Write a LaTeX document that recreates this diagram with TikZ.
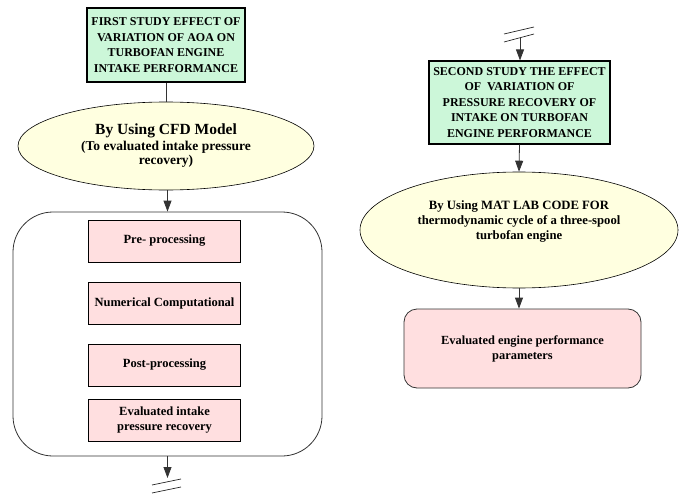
\documentclass[tikz,border=0pt]{standalone}
\usepackage{fontspec}
\setmainfont{Liberation Serif}
\usetikzlibrary{shapes.geometric,arrows.meta}
\definecolor{gfill}{HTML}{CCF7D9}
\definecolor{yfill}{HTML}{FFFFE0}
\definecolor{pfill}{HTML}{FFDFE0}
\begin{document}
\begin{tikzpicture}[x=1pt,y=-1pt,
  greenbox/.style={draw=black,line width=1.1pt,fill=gfill,rectangle,inner sep=0pt,align=center,font=\bfseries\fontsize{12}{15.5}\selectfont},
  ellbox/.style={draw=black,line width=0.6pt,fill=yfill,ellipse,inner sep=0pt,align=center},
  pinkbox/.style={draw=black,line width=1pt,fill=pfill,rectangle,inner sep=0pt,minimum width=152pt,minimum height=42pt,align=center,font=\bfseries\fontsize{12.5}{15}\selectfont},
  conn/.style={draw=black!80,line width=0.8pt},
  arr/.style={conn,-{Triangle[length=11pt,width=8pt]}},
  brk/.style={draw=black!85,line width=0.7pt}
]
\useasboundingbox (0,0) rectangle (686,495);
% left column
\node[greenbox,minimum width=158pt,minimum height=74pt] (g1) at (166,45)
  {FIRST STUDY EFFECT OF\\VARIATION OF AOA ON\\TURBOFAN ENGINE\\INTAKE PERFORMANCE};
\node[ellbox,minimum width=296pt,minimum height=88pt,font=\bfseries] (e1) at (166,146)
  {\fontsize{15.5}{17}\selectfont By Using CFD Model\\[2pt]
   \fontsize{13.5}{17}\selectfont (To evaluated intake pressure\\[1pt]
   \fontsize{13.5}{17}\selectfont recovery)};
\node[draw=black!80,line width=0.8pt,rounded corners=40pt,minimum width=309pt,minimum height=244pt,inner sep=0pt] (big) at (167.5,334) {};
\node[pinkbox] (p1) at (164.5,241) {Pre- processing};
\node[pinkbox] (p2) at (164.5,303) {Numerical Computational};
\node[pinkbox] (p3) at (164.5,365) {Post-processing};
\node[pinkbox] (p4) at (164.5,420) {Evaluated intake\\pressure recovery};
\coordinate (lend) at (167.5,478);
\draw[conn] (g1.south) -- (e1.north);
\draw[arr] (e1.south -| big.north) -- (big.north);
\draw[arr] (big.south) -- (lend);
\draw[brk] (152,485) -- (181,479);
\draw[brk] (152,493) -- (181,487);
% right column
\node[greenbox,minimum width=181pt,minimum height=83pt] (g2) at (519.5,102.5)
  {SECOND STUDY THE EFFECT\\OF\ \ VARIATION OF\\PRESSURE RECOVERY OF\\INTAKE ON TURBOFAN\\ENGINE PERFORMANCE};
\node[ellbox,minimum width=318pt,minimum height=116pt,font=\bfseries\fontsize{12.7}{14.7}\selectfont] (e2) at (519,230)
  {By Using MAT LAB CODE FOR\\thermodynamic cycle of a three-spool\\turbofan engine\\[5pt]};
\node[draw=black!80,line width=0.8pt,fill=pfill,rounded corners=13pt,minimum width=237pt,minimum height=79pt,inner sep=0pt,align=center,font=\bfseries\fontsize{12.4}{15}\selectfont] (r2) at (522.5,348.5)
  {Evaluated engine performance\\parameters};
\coordinate (rstart) at (520,38);
\draw[brk] (504,34) -- (534,27);
\draw[brk] (504,42) -- (534,34);
\draw[arr] (rstart) -- (rstart |- g2.north);
\draw[arr] (g2.south) -- (e2.north);
\draw[arr] (e2.south) -- (e2.south |- r2.north);
\end{tikzpicture}
\end{document}
